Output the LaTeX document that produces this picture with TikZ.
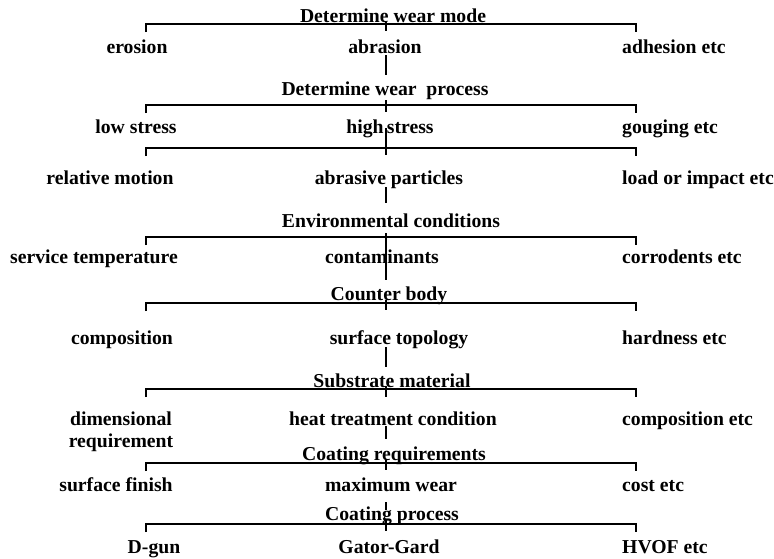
\documentclass[tikz,border=0pt]{standalone}
\usepackage{fontspec}
\setmainfont{Liberation Serif}
\begin{document}
\begin{tikzpicture}[x=1pt,y=-1pt,
  lbl/.style={inner sep=0pt,anchor=base,font=\fontsize{19.7}{22}\selectfont\bfseries},
  rlbl/.style={lbl,anchor=base west},
  lnk/.style={line width=1.4pt,line cap=butt}]
\useasboundingbox (0,0) rectangle (774,558);

% headings
\node[lbl] (h1) at (393,22) {Determine wear mode};
\node[lbl] (h2) at (385,95) {Determine wear\ \ process};
\node[lbl] (h3) at (391,227) {Environmental conditions};
\node[lbl] (h4) at (389,300) {Counter body};
\node[lbl] (h5) at (392,387) {Substrate material};
\node[lbl] (h6) at (394,460) {Coating requirements};
\node[lbl] (h7) at (392,520) {Coating process};

% row items
\node[lbl] (erosion) at (137,53) {erosion};
\node[lbl] (abrasion) at (385,53) {abrasion};
\node[rlbl] (adhesion) at (622,53) {adhesion etc};

\node[lbl] (low) at (136,133) {low stress};
\node[lbl] (high) at (390,133) {high\,stress};
\node[rlbl] (gouging) at (622,133) {gouging etc};

\node[lbl] (motion) at (110,184) {relative motion};
\node[lbl] (particles) at (389,184) {abrasive particles};
\node[rlbl] (load) at (622,184) {load or impact etc};

\node[lbl] (temp) at (94,263) {service temperature};
\node[lbl] (contam) at (382,263) {contaminants};
\node[rlbl] (corrod) at (622,263) {corrodents etc};

\node[lbl] (compo) at (122,344) {composition};
\node[lbl] (topo) at (399,344) {surface topology};
\node[rlbl] (hard) at (622,344) {hardness etc};

% two-line node: base anchor sits on the last line
\node[lbl,align=center] (dim) at (121,447) {dimensional\\requirement};
\node[lbl] (heat) at (393,425) {heat treatment condition};
\node[rlbl] (compoetc) at (622,425) {composition etc};

\node[lbl] (finish) at (116,491) {surface finish};
\node[lbl] (maxwear) at (391,491) {maximum wear};
\node[rlbl] (cost) at (622,491) {cost etc};

\node[lbl] (dgun) at (154,553) {D-gun};
\node[lbl] (gator) at (389,553) {Gator-Gard};
\node[rlbl] (hvof) at (622,553) {HVOF etc};

% brackets: left foot, top corners, right foot
\foreach \n/\y in {1/24,2/105,3/148,4/237,5/303,6/389,7/463,8/524}{
  \coordinate (b\n lf) at (146,\y+8);
  \coordinate (b\n lt) at (146,\y);
  \coordinate (b\n rt) at (636,\y);
  \coordinate (b\n rf) at (636,\y+8);
  \draw[lnk] (b\n lf) -- (b\n lt) -- (b\n rt) -- (b\n rf);
}

% vertical stems on the centre line
\foreach \n/\a/\b in {1/22/31,2/55/75,3/100/112,4/128/155,5/187/203,6/233/280,
                      7/300/310,8/347/367,9/386/397,10/426/439,11/460/470,
                      12/502/510,13/519/531}{
  \coordinate (s\n a) at (386,\a);
  \coordinate (s\n b) at (386,\b);
  \draw[lnk] (s\n a) -- (s\n b);
}
\end{tikzpicture}
\end{document}
